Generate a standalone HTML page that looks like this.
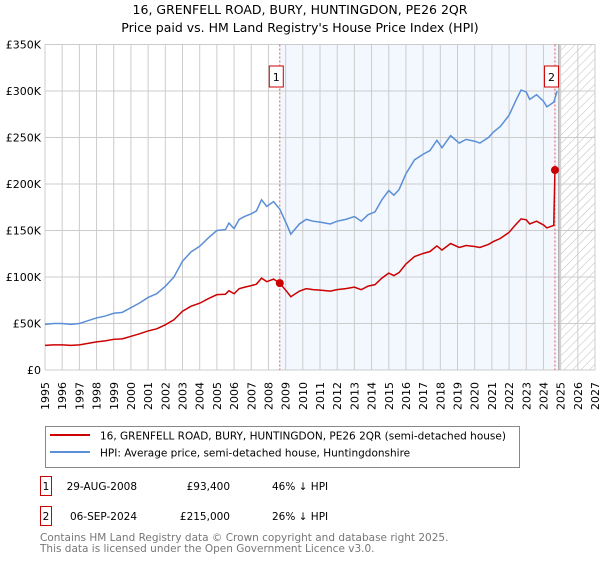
<!DOCTYPE html>
<html><head><meta charset="utf-8"><style>
body{margin:0;background:#fff;font-family:"Liberation Sans","DejaVu Sans",sans-serif;}
svg text{font-family:"DejaVu Sans","Liberation Sans",sans-serif;}
</style></head><body>
<svg id="chart" width="600" height="560" viewBox="0 0 600 560" xmlns="http://www.w3.org/2000/svg">
<defs>
<pattern id="hatch" width="6" height="6" patternUnits="userSpaceOnUse" patternTransform="rotate(45)">
<line x1="0" y1="0" x2="0" y2="6" stroke="#bbb" stroke-width="1"/>
</pattern>
</defs>
<text x="300" y="14" text-anchor="middle" font-size="12.5" fill="#000">16, GRENFELL ROAD, BURY, HUNTINGDON, PE26 2QR</text>
<text x="300" y="32" text-anchor="middle" font-size="12.5" fill="#000">Price paid vs. HM Land Registry's House Price Index (HPI)</text>
<g id="plot"></g>
<g>
<rect x="45.5" y="426.5" width="474" height="41" fill="#fff" stroke="#888"/>
<line x1="50" y1="435" x2="90" y2="435" stroke="#cc0000" stroke-width="2"/>
<text x="100" y="439.5" font-size="10.5">16, GRENFELL ROAD, BURY, HUNTINGDON, PE26 2QR (semi-detached house)</text>
<line x1="50" y1="452" x2="90" y2="452" stroke="#5b8fd6" stroke-width="2"/>
<text x="100" y="456.5" font-size="10.5">HPI: Average price, semi-detached house, Huntingdonshire</text>
</g>
<g font-size="10.5">
<rect x="40.5" y="476.5" width="11" height="19" fill="#fff" stroke="#cc0000"/>
<text x="46" y="490" text-anchor="middle">1</text>
<text x="137" y="490" text-anchor="end">29-AUG-2008</text>
<text x="230" y="490" text-anchor="end">£93,400</text>
<text x="272" y="490">46% ↓ HPI</text>
<rect x="40.5" y="506.5" width="11" height="19" fill="#fff" stroke="#cc0000"/>
<text x="46" y="520" text-anchor="middle">2</text>
<text x="137" y="520" text-anchor="end">06-SEP-2024</text>
<text x="230" y="520" text-anchor="end">£215,000</text>
<text x="272" y="520">26% ↓ HPI</text>
</g>
<text x="40" y="541" font-size="10.5" fill="#777">Contains HM Land Registry data © Crown copyright and database right 2025.</text>
<text x="40" y="552" font-size="10.5" fill="#777">This data is licensed under the Open Government Licence v3.0.</text>
</svg>
<script>
const dates=[1995.0,1995.5,1996.0,1996.5,1997.0,1997.5,1998.0,1998.5,1999.0,1999.5,2000.0,2000.5,2001.0,2001.5,2002.0,2002.5,2003.0,2003.5,2004.0,2004.5,2005.0,2005.5,2005.7,2006.0,2006.3,2006.6,2007.0,2007.3,2007.6,2007.9,2008.3,2008.66,2009.1,2009.3,2009.8,2010.2,2010.6,2011.0,2011.6,2012.0,2012.5,2013.0,2013.4,2013.8,2014.2,2014.6,2015.0,2015.3,2015.6,2016.0,2016.5,2017.0,2017.4,2017.8,2018.1,2018.6,2019.1,2019.5,2020.0,2020.3,2020.8,2021.1,2021.5,2022.0,2022.4,2022.7,2023.0,2023.2,2023.6,2024.0,2024.2,2024.6,2024.8];
const hpiValues=[49,50,50,49,50,53,56,58,61,62,67,72,78,82,90,100,117,127,133,142,150,151,158,152,162,165,168,171,183,176,181,173,155,146,157,162,160,159,157,160,162,165,160,167,170,183,193,188,194,211,226,232,236,247,239,252,244,248,246,244,250,256,262,274,290,301,299,291,296,289,283,288,300];
const priceDates=[1995.0,1995.5,1996.0,1996.5,1997.0,1997.5,1998.0,1998.5,1999.0,1999.5,2000.0,2000.5,2001.0,2001.5,2002.0,2002.5,2003.0,2003.5,2004.0,2004.5,2005.0,2005.5,2005.7,2006.0,2006.3,2006.6,2007.0,2007.3,2007.6,2007.9,2008.3,2008.66,2009.1,2009.3,2009.8,2010.2,2010.6,2011.0,2011.6,2012.0,2012.5,2013.0,2013.4,2013.8,2014.2,2014.6,2015.0,2015.3,2015.6,2016.0,2016.5,2017.0,2017.4,2017.8,2018.1,2018.6,2019.1,2019.5,2020.0,2020.3,2020.8,2021.1,2021.5,2022.0,2022.4,2022.7,2023.0,2023.2,2023.6,2024.0,2024.2,2024.6,2024.67,2024.8];
const priceValues=[26.5,27,27,26.5,27,28.6,30.2,31.3,33,33.5,36.2,38.9,42,44.3,48.6,54,63.2,68.6,71.8,76.7,81,81.5,85.3,82,87.5,89,90.7,92.3,98.8,95,97.7,93.4,83.7,78.8,84.8,87.5,86.4,85.9,84.8,86.4,87.5,89.1,86.4,90.2,91.8,98.8,104.2,101.5,104.8,114,122,125.3,127.4,133.4,129,136,131.8,133.9,132.8,131.8,135,138.2,141.5,148,156.6,162.5,161.5,157,160,156,152.8,155.5,215,218];
const saleDates=[2008.66,2024.67];
const saleValues=[93.4,215];
const saleLabels=["1","2"];
const yTicks=[0,50,100,150,200,250,300,350];
const yTickLabels=["£0","£50K","£100K","£150K","£200K","£250K","£300K","£350K"];
const xTicks=[1995,1996,1997,1998,1999,2000,2001,2002,2003,2004,2005,2006,2007,2008,2009,2010,2011,2012,2013,2014,2015,2016,2017,2018,2019,2020,2021,2022,2023,2024,2025,2026,2027];

const L=45,R=595,T=44.5,B=370;
const x=d=>L+(d-1995)/(2027-1995)*(R-L);
const y=v=>B-v/350*(B-T);
const NS="http://www.w3.org/2000/svg";
const g=document.getElementById('plot');
function mk(tag,attrs){const e=document.createElementNS(NS,tag);for(const k in attrs)e.setAttribute(k,attrs[k]);g.appendChild(e);return e;}

let e=mk('rect',{x:x(saleDates[0]),y:T,width:x(2024.9)-x(saleDates[0]),height:B-T,fill:'#eef3fd',opacity:0.7});


e=mk('rect',{x:x(2025),y:T,width:R-x(2025),height:B-T,fill:'url(#hatch)'});



xTicks.forEach(t=>{
  const l=mk('line',{x1:x(t),x2:x(t),y1:T,y2:B,stroke:'#cccccc','stroke-width':1});
  
  
  const tx=mk('text',{x:0,y:0,'font-size':11,'text-anchor':'end',transform:`translate(${x(t)+4},${B+12}) rotate(-90)`});
  tx.textContent=t;
  
  
});
yTicks.forEach((t,i)=>{
  const l=mk('line',{x1:L,x2:R,y1:y(t),y2:y(t),stroke:'#cccccc','stroke-width':1});
  
  
  const tx=mk('text',{x:L-4,y:y(t)+4,'font-size':11,'text-anchor':'end'});
  tx.textContent=yTickLabels[i];
  
  
});
e=mk('line',{x1:x(2024.9),x2:x(2024.9),y1:T,y2:B,stroke:'#999','stroke-width':1.2});



saleDates.forEach((d,i)=>{
  const l=mk('line',{x1:x(d),x2:x(d),y1:T,y2:B,stroke:'#ee5555','stroke-width':1,'stroke-dasharray':'2,2'});
  
  
});

let p=mk('polyline',{points:dates.map((d,i)=>x(d)+','+y(hpiValues[i])).join(' '),fill:'none',stroke:'#5b8fd6','stroke-width':1.5});


p=mk('polyline',{points:priceDates.map((d,i)=>x(d)+','+y(priceValues[i])).join(' '),fill:'none',stroke:'#cc0000','stroke-width':1.5});



saleDates.forEach((d,i)=>{
  const c=mk('circle',{cx:x(d),cy:y(saleValues[i]),r:4,fill:'#cc0000'});
  
  
  const bx=mk('rect',{x:x(d)-10.5,y:66,width:14,height:21,fill:'#fff',stroke:'#cc0000'});
  
  
  const t=mk('text',{x:x(d)-3.5,y:81,'font-size':11,'text-anchor':'middle'});
  t.textContent=saleLabels[i];
  
  
});
</script>
</body></html>
